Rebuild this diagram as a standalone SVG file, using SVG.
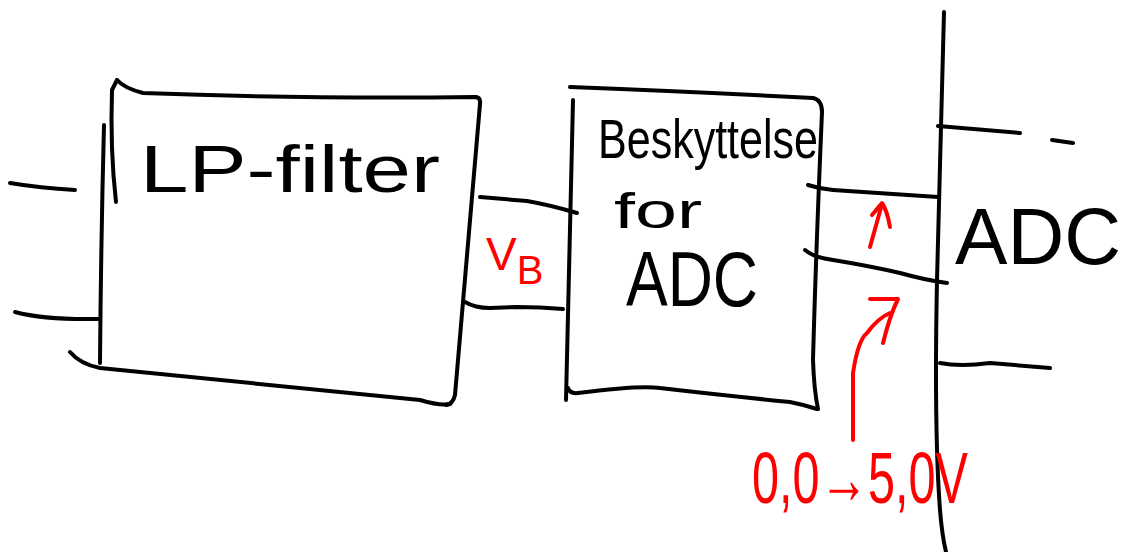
<svg xmlns="http://www.w3.org/2000/svg" width="1123" height="552" viewBox="0 0 1123 552">
  <style>
    .ink { fill: none; stroke: #000; stroke-width: 4; stroke-linecap: round; stroke-linejoin: round; }
    .red { fill: none; stroke: #f00; stroke-width: 4; stroke-linecap: round; stroke-linejoin: round; }
    .hand { font-family: "Liberation Sans", "DejaVu Sans", sans-serif; fill: #000; }
    .hand-red { font-family: "Liberation Sans", "DejaVu Sans", sans-serif; fill: #f00; }
  </style>
  <rect width="1123" height="552" fill="#fff"/>

  <!-- Low-pass filter block -->
  <g id="lp-filter">
    <path class="ink" d="M104,125 Q101,240 100,363"/>
    <path class="ink" d="M117,80 L112,90 Q110,150 116,202"/>
    <path class="ink" d="M117,80 Q124,88 143,93 Q300,99 476,97 Q481,98 480,104"/>
    <path class="ink" d="M480,104 L455,395 Q453,404 446,405"/>
    <path class="ink" d="M70,352 Q80,364 100,368 L420,400 Q440,406 450,404"/>
    <text class="hand" x="140" y="192" font-size="66" textLength="300" lengthAdjust="spacingAndGlyphs">LP-filter</text>
  </g>

  <!-- Protection stage in front of the converter -->
  <g id="protection">
    <path class="ink" d="M570,87 Q700,92 813,98 Q822,100 822,112"/>
    <path class="ink" d="M573,100 Q570,250 566,400"/>
    <path class="ink" d="M568,388 Q570,394 578,393 Q640,385 660,388 Q720,395 790,402 Q805,405 817,409"/>
    <path class="ink" d="M822,112 Q816,250 813,360 Q814,390 818,409"/>
    <text class="hand" x="598" y="158" font-size="56" textLength="220" lengthAdjust="spacingAndGlyphs">Beskyttelse</text>
    <text class="hand" x="614" y="228" font-size="50" textLength="88" lengthAdjust="spacingAndGlyphs">for</text>
    <text class="hand" x="626" y="306" font-size="78" textLength="132" lengthAdjust="spacingAndGlyphs">ADC</text>
  </g>

  <!-- Converter (edge of the ADC) -->
  <g id="adc">
    <path class="ink" d="M944,12 Q940,150 937,280 Q934,430 940,510 Q942,535 946,552"/>
    <path class="ink" d="M938,126 L1020,133"/>
    <path class="ink" d="M1052,140 L1073,143"/>
    <path class="ink" d="M940,363 Q960,367 990,363 L1050,368"/>
    <text class="hand" x="955" y="264" font-size="80" textLength="166" lengthAdjust="spacingAndGlyphs">ADC</text>
  </g>

  <!-- Signal lines between the blocks -->
  <g id="connectors">
    <path class="ink" d="M10,183 Q40,188 75,190"/>
    <path class="ink" d="M15,312 Q45,320 98,319"/>
    <path class="ink" d="M480,197 L527,201 Q550,205 577,213"/>
    <path class="ink" d="M465,302 Q475,308 490,308 L517,307 Q540,307 563,309"/>
    <path class="ink" d="M808,185 Q820,189 833,190 L938,197"/>
    <path class="ink" d="M805,250 Q815,258 833,260 Q870,266 900,273 Q925,280 947,283"/>
  </g>

  <!-- Red annotations: voltage label and input range -->
  <g id="annotations">
    <text class="hand-red" x="486" y="270" font-size="46">V<tspan dy="14" font-size="40">B</tspan></text>
    <path class="red" d="M870,247 L882,204"/>
    <path class="red" d="M872,215 L882,203 Q887,210 890,227"/>
    <path class="red" d="M853,440 L853,373 Q858,340 867,333 Q878,318 890,313"/>
    <path class="red" d="M870,299 L898,299 Q890,315 883,343"/>
    <text class="hand-red" x="752" y="503" font-size="72" textLength="216" lengthAdjust="spacingAndGlyphs">0,0→5,0V</text>
  </g>
</svg>
